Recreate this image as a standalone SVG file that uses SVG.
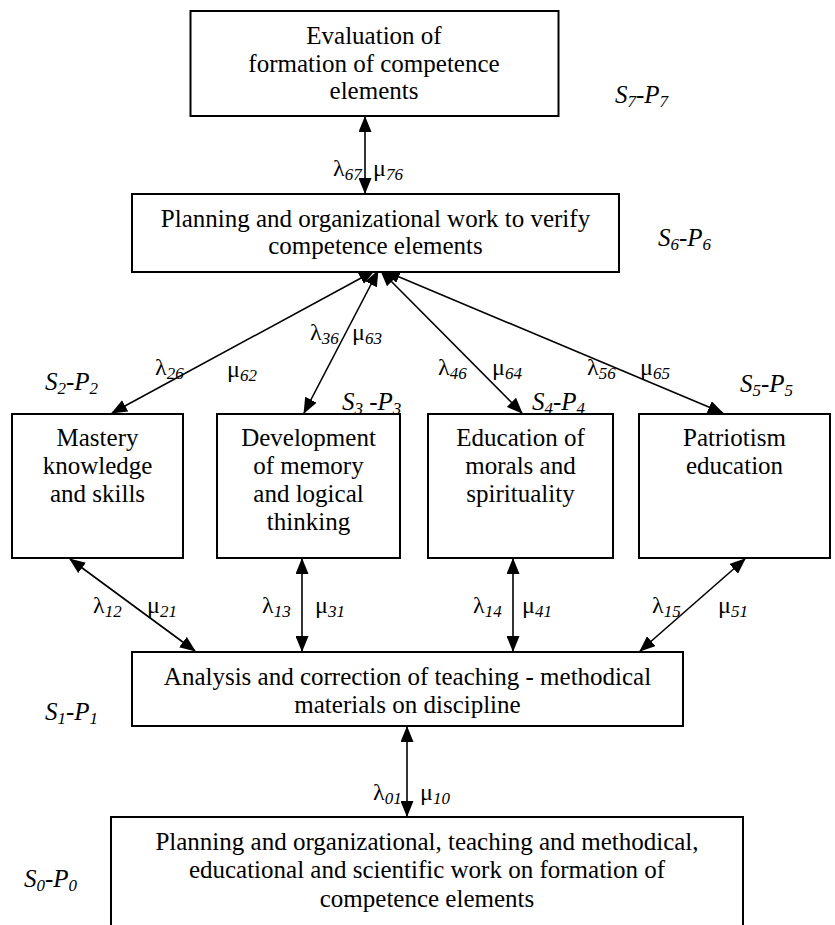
<svg xmlns="http://www.w3.org/2000/svg" width="835" height="925" viewBox="0 0 835 925" font-family="'Liberation Serif', 'Times New Roman', Times, serif">
  <style>
    .box { fill: #ffffff; stroke: #000000; stroke-width: 2; }
    .bt { font-family: 'Liberation Serif', 'Times New Roman', Times, serif; font-size: 25px; fill: #000; text-anchor: middle; }
    .lbl { font-family: 'Liberation Serif', 'Times New Roman', Times, serif; font-size: 24px; fill: #000; }
    .st { font-family: 'Liberation Serif', 'Times New Roman', Times, serif; font-size: 25px; font-style: italic; fill: #000; }
    .sub { font-size: 17px; font-style: italic; }
    .con { stroke: #000; stroke-width: 1.6; fill: none; marker-start: url(#ah); marker-end: url(#ah); }
  </style>
  <defs>
    <marker id="ah" markerUnits="userSpaceOnUse" markerWidth="16" markerHeight="13" refX="15" refY="6.5" orient="auto-start-reverse" viewBox="0 0 16 13">
      <path d="M0,0 L16,6.5 L0,13 z" fill="#000"/>
    </marker>
  </defs>

  <g id="connectors">
    <line class="con" x1="365" y1="117" x2="365" y2="193"/>
    <line class="con" x1="374" y1="271" x2="112" y2="413"/>
    <line class="con" x1="378" y1="271" x2="304" y2="413"/>
    <line class="con" x1="381" y1="271" x2="522" y2="413"/>
    <line class="con" x1="385" y1="271" x2="723" y2="413"/>
    <line class="con" x1="70" y1="559" x2="195" y2="651"/>
    <line class="con" x1="302" y1="559" x2="302" y2="651"/>
    <line class="con" x1="513" y1="559" x2="513" y2="651"/>
    <line class="con" x1="745" y1="559" x2="640" y2="651"/>
    <line class="con" x1="407" y1="727" x2="407" y2="816"/>
  </g>

  <g id="s7">
    <rect class="box" x="190.5" y="11" width="368" height="105"/>
    <text class="bt" x="374" y="44">Evaluation of</text>
    <text class="bt" x="374" y="72">formation of competence</text>
    <text class="bt" x="374" y="99">elements</text>
  </g>
  <g id="s6">
    <rect class="box" x="132" y="194" width="487" height="78"/>
    <text class="bt" x="375.5" y="227">Planning and organizational work to verify</text>
    <text class="bt" x="375.5" y="254">competence elements</text>
  </g>
  <g id="s2">
    <rect class="box" x="12" y="414" width="171" height="144"/>
    <text class="bt" x="97.5" y="446">Mastery</text>
    <text class="bt" x="97.5" y="474">knowledge</text>
    <text class="bt" x="97.5" y="502">and skills</text>
  </g>
  <g id="s3">
    <rect class="box" x="217" y="414" width="183" height="144"/>
    <text class="bt" x="308.5" y="446">Development</text>
    <text class="bt" x="308.5" y="474">of memory</text>
    <text class="bt" x="308.5" y="502">and logical</text>
    <text class="bt" x="308.5" y="530">thinking</text>
  </g>
  <g id="s4">
    <rect class="box" x="428" y="414" width="185" height="144"/>
    <text class="bt" x="520.5" y="446">Education of</text>
    <text class="bt" x="520.5" y="474">morals and</text>
    <text class="bt" x="520.5" y="502">spirituality</text>
  </g>
  <g id="s5">
    <rect class="box" x="639" y="414" width="191" height="144"/>
    <text class="bt" x="734.5" y="446">Patriotism</text>
    <text class="bt" x="734.5" y="474">education</text>
  </g>
  <g id="s1">
    <rect class="box" x="132" y="652" width="551" height="74"/>
    <text class="bt" x="407.5" y="685">Analysis and correction of teaching - methodical</text>
    <text class="bt" x="407.5" y="713">materials on discipline</text>
  </g>
  <g id="s0">
    <rect class="box" x="111" y="817" width="632" height="130"/>
    <text class="bt" x="427" y="850">Planning and organizational, teaching and methodical,</text>
    <text class="bt" x="427" y="878">educational and scientific work on formation of</text>
    <text class="bt" x="427" y="907">competence elements</text>
  </g>

  <g id="state-labels">
    <text class="st" x="615" y="103">S<tspan class="sub" dy="4">7</tspan><tspan dy="-4">-P</tspan><tspan class="sub" dy="4">7</tspan></text>
    <text class="st" x="658" y="246">S<tspan class="sub" dy="4">6</tspan><tspan dy="-4">-P</tspan><tspan class="sub" dy="4">6</tspan></text>
    <text class="st" x="45" y="390">S<tspan class="sub" dy="4">2</tspan><tspan dy="-4">-P</tspan><tspan class="sub" dy="4">2</tspan></text>
    <text class="st" x="342" y="410">S<tspan class="sub" dy="4">3</tspan><tspan dy="-4"> -P</tspan><tspan class="sub" dy="4">3</tspan></text>
    <text class="st" x="532" y="410">S<tspan class="sub" dy="4">4</tspan><tspan dy="-4">-P</tspan><tspan class="sub" dy="4">4</tspan></text>
    <text class="st" x="740" y="392">S<tspan class="sub" dy="4">5</tspan><tspan dy="-4">-P</tspan><tspan class="sub" dy="4">5</tspan></text>
    <text class="st" x="45" y="720">S<tspan class="sub" dy="4">1</tspan><tspan dy="-4">-P</tspan><tspan class="sub" dy="4">1</tspan></text>
    <text class="st" x="24" y="887">S<tspan class="sub" dy="4">0</tspan><tspan dy="-4">-P</tspan><tspan class="sub" dy="4">0</tspan></text>
  </g>

  <g id="rate-labels">
    <text class="lbl" x="333" y="176">λ<tspan class="sub" dy="4">67</tspan></text>
    <text class="lbl" x="373" y="176">μ<tspan class="sub" dy="4">76</tspan></text>
    <text class="lbl" x="155" y="375">λ<tspan class="sub" dy="4">26</tspan></text>
    <text class="lbl" x="227" y="377">μ<tspan class="sub" dy="4">62</tspan></text>
    <text class="lbl" x="310" y="340">λ<tspan class="sub" dy="4">36</tspan></text>
    <text class="lbl" x="352" y="340">μ<tspan class="sub" dy="4">63</tspan></text>
    <text class="lbl" x="438" y="375">λ<tspan class="sub" dy="4">46</tspan></text>
    <text class="lbl" x="492" y="375">μ<tspan class="sub" dy="4">64</tspan></text>
    <text class="lbl" x="587" y="375">λ<tspan class="sub" dy="4">56</tspan></text>
    <text class="lbl" x="640" y="375">μ<tspan class="sub" dy="4">65</tspan></text>
    <text class="lbl" x="93" y="613">λ<tspan class="sub" dy="4">12</tspan></text>
    <text class="lbl" x="147" y="613">μ<tspan class="sub" dy="4">21</tspan></text>
    <text class="lbl" x="262" y="613">λ<tspan class="sub" dy="4">13</tspan></text>
    <text class="lbl" x="315" y="613">μ<tspan class="sub" dy="4">31</tspan></text>
    <text class="lbl" x="473" y="613">λ<tspan class="sub" dy="4">14</tspan></text>
    <text class="lbl" x="522" y="613">μ<tspan class="sub" dy="4">41</tspan></text>
    <text class="lbl" x="652" y="613">λ<tspan class="sub" dy="4">15</tspan></text>
    <text class="lbl" x="718" y="613">μ<tspan class="sub" dy="4">51</tspan></text>
    <text class="lbl" x="373" y="800">λ<tspan class="sub" dy="4">01</tspan></text>
    <text class="lbl" x="420" y="800">μ<tspan class="sub" dy="4">10</tspan></text>
  </g>
</svg>
